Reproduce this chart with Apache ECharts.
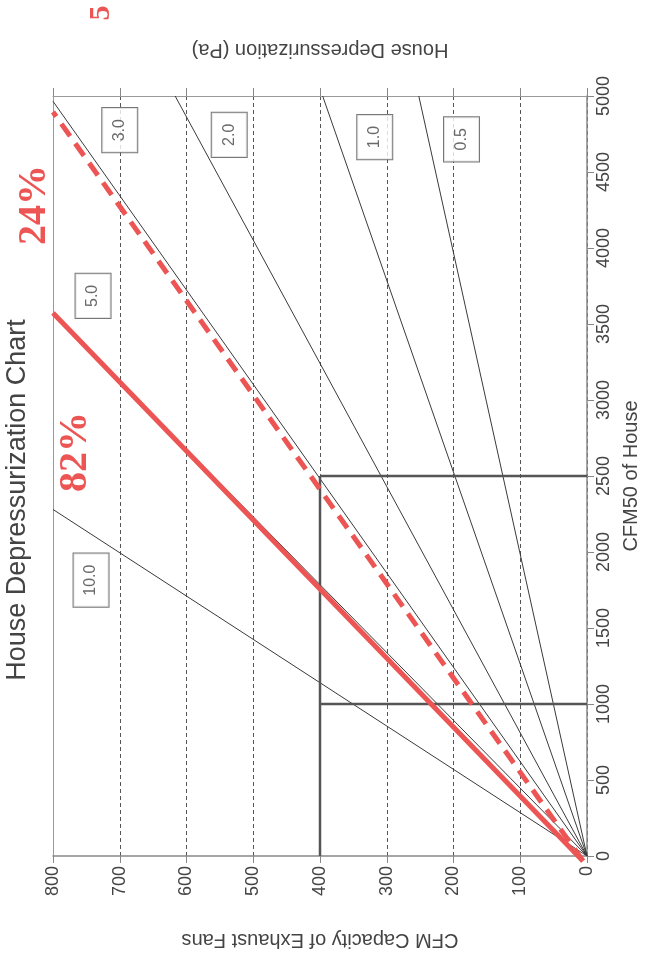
<!DOCTYPE html>
<html>
<head>
<meta charset="utf-8">
<script src="https://cdn.jsdelivr.net/npm/echarts@6/dist/echarts.min.js"></script>
<style>
html, body { margin: 0; padding: 0; background: #fff; }
#chart { width: 651px; height: 958px; }
</style>
</head>
<body>
<div id="chart"></div>
<script>
// the scanned chart is turned 90deg, so exhaust CFM runs along x (inverted) and CFM50 along y

// depressurization lines (Pa), each from the origin to where it leaves the plot
const paLevels = ['10.0', '5.0', '3.0', '2.0', '1.0', '0.5'];
const paEndExhaust = [800, 800, 800, 617, 396, 252];
const paEndCfm50 = [2280, 3570, 4965, 5000, 5000, 5000];

// boxed level labels
const paLabelExhaust = [743, 740, 700, 536, 318, 188];
const paLabelCfm50 = [1815, 3685, 4775, 4745, 4730, 4715];

// hand drawn red lines
const redSolid = [[6, -33], [800, 3572]];
const redDashed = [[6, -33], [800, 4895]];

// dark guide lines
const guideLines = [
  [[400, 0], [400, 2500]],
  [[400, 2500], [0, 2500]],
  [[400, 1000], [0, 1000]]
];

const font = 'Liberation Sans, Arial, Helvetica, sans-serif';
const red = '#ec5553';

const chart = echarts.init(document.getElementById('chart'));

const series = [];
paLevels.forEach((p, i) => {
  series.push({
    name: p + ' Pa',
    type: 'line',
    xAxisIndex: 0,
    yAxisIndex: 0,
    symbol: 'none',
    silent: true,
    z: 3,
    lineStyle: { color: '#3a3a3a', width: 1 },
    data: [[0, 0], [paEndExhaust[i], paEndCfm50[i]]]
  });
});
guideLines.forEach((g, i) => {
  series.push({
    name: 'guide' + i,
    type: 'line',
    symbol: 'none',
    silent: true,
    z: 4,
    lineStyle: { color: '#555', width: 2.5 },
    data: g
  });
});
series.push({
  name: 'red solid',
  type: 'line',
  symbol: 'none',
  clip: false,
  z: 6,
  lineStyle: { color: red, width: 5 },
  data: redSolid
});
series.push({
  name: 'red dashed',
  type: 'line',
  symbol: 'none',
  clip: false,
  z: 6,
  lineStyle: { color: red, width: 5, type: [15, 9] },
  data: redDashed
});
series.push({
  name: 'labels',
  type: 'scatter',
  symbol: 'rect',
  symbolSize: 0,
  z: 8,
  label: {
    show: true,
    position: 'inside',
    rotate: 90,
    formatter: (d) => d.name,
    fontFamily: font,
    fontSize: 16,
    color: '#444',
    backgroundColor: '#fff',
    borderColor: '#555',
    borderWidth: 1,
    padding: [10, 11, 9, 11]
  },
  data: paLevels.map((p, i) => ({ name: p, value: [paLabelExhaust[i], paLabelCfm50[i]] }))
});

chart.setOption({
  backgroundColor: '#fff',
  animation: false,
  grid: { left: 53, right: 64, top: 96, bottom: 102 },
  xAxis: [{
    type: 'value',
    min: 0,
    max: 800,
    interval: 100,
    inverse: true,
    position: 'bottom',
    axisLine: { onZero: false, lineStyle: { color: '#888', width: 1.5 } },
    axisTick: { show: true, length: 7, lineStyle: { color: '#888' } },
    axisLabel: { rotate: 90, margin: 10, fontFamily: font, fontSize: 18, color: '#444', formatter: (v) => String(v) },
    splitLine: { show: true, lineStyle: { color: '#555', width: 1, type: [4, 3] } },
    name: 'CFM Capacity of Exhaust Fans',
    nameLocation: 'middle',
    nameRotate: 180,
    nameGap: 74,
    nameTextStyle: { fontFamily: font, fontSize: 20, color: '#444' }
  }, {
    type: 'value',
    min: 0,
    max: 800,
    interval: 100,
    inverse: true,
    position: 'top',
    axisLine: { onZero: false, lineStyle: { color: '#999', width: 1 } },
    axisTick: { show: true, length: 8, lineStyle: { color: '#888' } },
    axisLabel: { show: false },
    splitLine: { show: false },
    name: 'House Depressurization (Pa)',
    nameLocation: 'middle',
    nameRotate: 180,
    nameGap: 36,
    nameTextStyle: { fontFamily: font, fontSize: 20, color: '#444' }
  }],
  yAxis: [{
    type: 'value',
    min: 0,
    max: 5000,
    interval: 500,
    position: 'right',
    axisLine: { show: true, onZero: false, lineStyle: { color: '#888', width: 1.5 } },
    axisTick: { show: true, length: 7, lineStyle: { color: '#888' } },
    axisLabel: { rotate: 90, margin: 8, fontFamily: font, fontSize: 18, color: '#444', formatter: (v) => String(v) },
    splitLine: { show: false },
    name: 'CFM50 of House',
    nameLocation: 'middle',
    nameRotate: 90,
    nameGap: 34,
    nameTextStyle: { fontFamily: font, fontSize: 20, color: '#444' }
  }, {
    type: 'value',
    min: 0,
    max: 5000,
    position: 'left',
    axisLine: { show: true, onZero: false, lineStyle: { color: '#999', width: 1 } },
    axisTick: { show: false },
    axisLabel: { show: false },
    splitLine: { show: false }
  }],
  graphic: [{
    type: 'text',
    x: 18,
    y: 500,
    rotation: Math.PI / 2,
    style: { text: 'House Depressurization Chart', fontFamily: font, fontSize: 27, fill: '#444', align: 'center', verticalAlign: 'middle' }
  }, {
    type: 'text',
    x: 76,
    y: 452,
    rotation: Math.PI / 2,
    z: 10,
    style: { text: '82%', fontFamily: 'Liberation Serif, Times New Roman, serif', fontWeight: 'bold', fontSize: 40, fill: red, align: 'center', verticalAlign: 'middle' }
  }, {
    type: 'text',
    x: 35,
    y: 205,
    rotation: Math.PI / 2,
    z: 10,
    style: { text: '24%', fontFamily: 'Liberation Serif, Times New Roman, serif', fontWeight: 'bold', fontSize: 40, fill: red, align: 'center', verticalAlign: 'middle' }
  }, {
    type: 'text',
    x: 101,
    y: 13,
    rotation: Math.PI / 2,
    z: 10,
    style: { text: '5', fontFamily: 'Liberation Serif, Times New Roman, serif', fontWeight: 'bold', fontSize: 30, fill: red, align: 'center', verticalAlign: 'middle' }
  }],
  series: series
});
</script>
</body>
</html>
